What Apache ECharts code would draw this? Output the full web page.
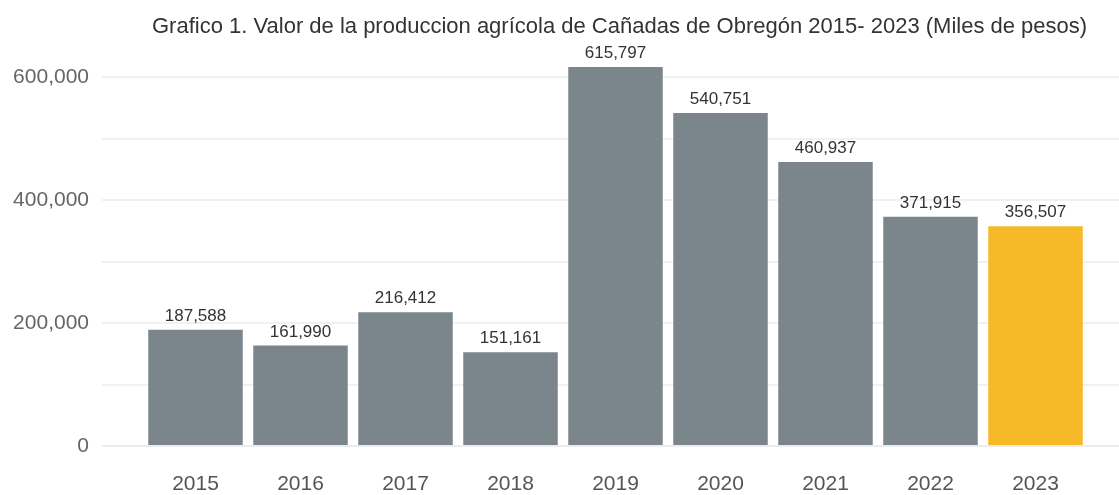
<!DOCTYPE html>
<html>
<head>
<meta charset="utf-8">
<script src="https://cdn.jsdelivr.net/npm/echarts@6/dist/echarts.min.js"></script>
<style>
  html, body { margin: 0; padding: 0; background: #fff; }
  #chart { width: 1119px; height: 495px; }
</style>
</head>
<body>
<div id="chart"></div>
<script>
const years = ["2015", "2016", "2017", "2018", "2019", "2020", "2021", "2022", "2023"];
const valores = [187588, 161990, 216412, 151161, 615797, 540751, 460937, 371915, 356507];
const colorGris = "#7b868c";
const colorDestacado = "#f7b928";

const chart = echarts.init(document.getElementById("chart"));

// the last year goes in yellow
const barData = valores.map((v, i) => ({
  value: v,
  itemStyle: { color: i === valores.length - 1 ? colorDestacado : colorGris }
}));

const fmt = (v) => v.toLocaleString("en-US");

const option = {
  animation: false,
  title: {
    text: "Grafico 1. Valor de la produccion agrícola de Cañadas de Obregón 2015- 2023 (Miles de pesos)",
    left: 147,
    top: 11,
    textStyle: { fontFamily: "Liberation Sans, Arial", fontSize: 22, fontWeight: "normal", color: "#333" }
  },
  // grid 0 only holds the wide gridlines + y labels, grid 1 holds the bars
  grid: [
    { left: 102, right: 0, top: 46, bottom: 49 },
    { left: 143, right: 31, top: 46, bottom: 49 }
  ],
  xAxis: [
    { gridIndex: 0, type: "category", data: years, show: false },
    {
      gridIndex: 1,
      type: "category",
      data: years,
      axisLine: { show: false },
      axisTick: { show: false },
      axisLabel: { margin: 29, fontSize: 21, color: "#555", fontFamily: "Liberation Sans, Arial" }
    }
  ],
  yAxis: [
    {
      gridIndex: 0,
      type: "value",
      min: 0,
      max: 650000,
      interval: 100000,
      axisLine: { show: false },
      axisTick: { show: false },
      axisLabel: {
        margin: 13,
        fontSize: 21,
        color: "#666",
        fontFamily: "Liberation Sans, Arial",
        formatter: (v) => (v % 200000 === 0 ? fmt(v) : "")
      },
      splitLine: {
        lineStyle: {
          color: ["#e6e6e6", "#ececec", "#ececec", "#ececec", "#ececec", "#ececec", "#ececec", "transparent"],
          width: 1.5
        }
      }
    },
    {
      gridIndex: 1,
      type: "value",
      min: 0,
      max: 650000,
      interval: 100000,
      show: false,
      splitLine: { show: false }
    }
  ],
  series: [
    {
      type: "bar",
      xAxisIndex: 1,
      yAxisIndex: 1,
      data: barData,
      barCategoryGap: "10%",
      label: {
        show: true,
        position: "top",
        distance: 5,
        fontSize: 17,
        color: "#333",
        fontFamily: "Liberation Sans, Arial",
        formatter: (p) => fmt(p.value)
      }
    }
  ]
};

chart.setOption(option);
</script>
</body>
</html>
